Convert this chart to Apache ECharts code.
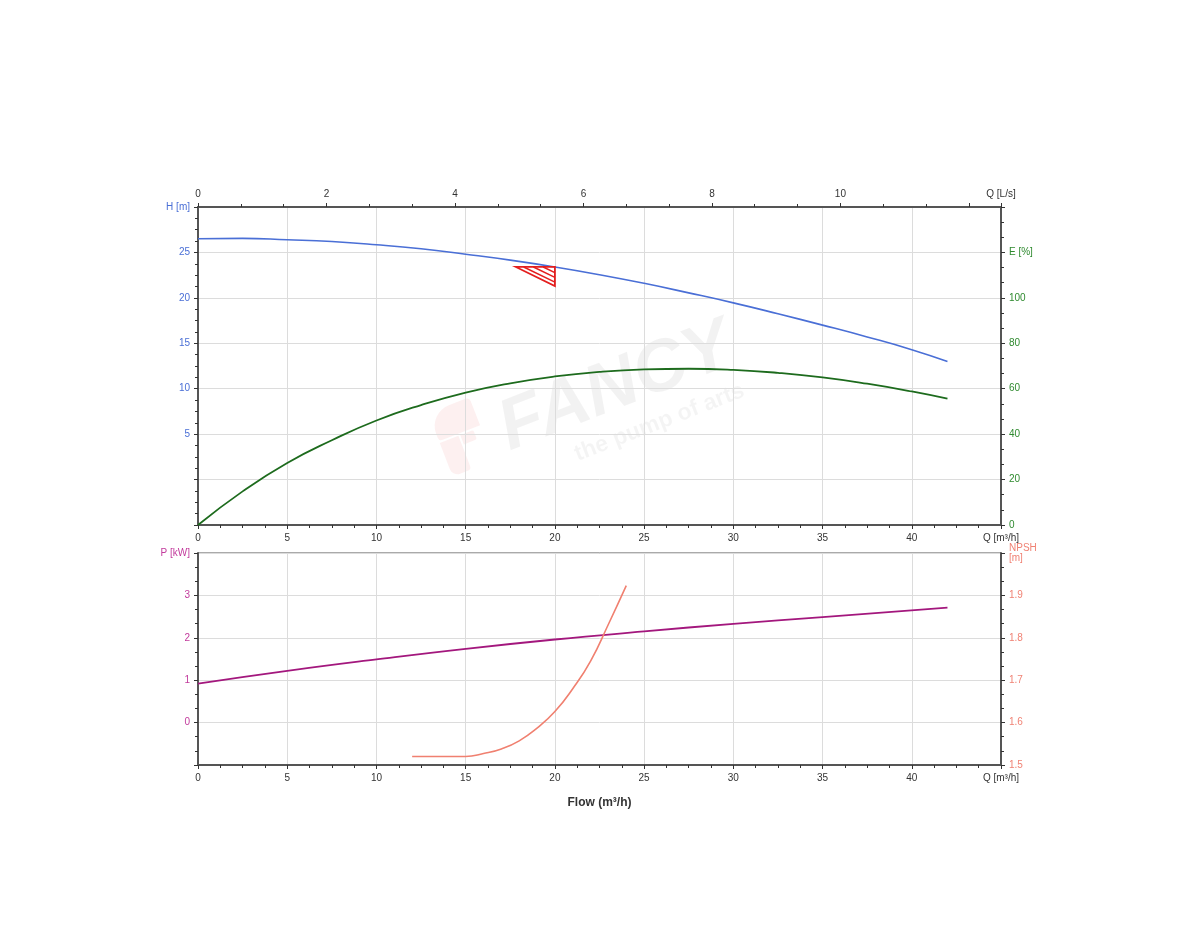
<!DOCTYPE html>
<html>
<head>
<meta charset="utf-8">
<title>Pump curve</title>
<script src="https://cdn.jsdelivr.net/npm/echarts@6/dist/echarts.min.js"></script>
<style>
    html, body { margin: 0; padding: 0; background: #fff; }
    #main { width: 1200px; height: 950px; }
</style>
</head>
<body>
<div id="main"></div>
<script>
// flow points (m3/h) and readings
var flowH = [0, 2.5, 5, 7.5, 10, 12.5, 15, 17.5, 20, 22.5, 25, 27.5, 30, 32.5, 35, 37.5, 40, 42];
var head = [26.5, 26.55, 26.4, 26.2, 25.85, 25.4, 24.8, 24.15, 23.4, 22.55, 21.6, 20.55, 19.45, 18.25, 17.0, 15.7, 14.3, 13.0];

var flowE = [0, 2.5, 5, 7.5, 10, 12.5, 15, 17.5, 20, 22.5, 25, 27.5, 30, 32.5, 35, 37.5, 40, 42];
var efficiency = [0, 14.8, 27.3, 37.3, 46, 52.8, 58.3, 62.4, 65.4, 67.4, 68.5, 68.8, 68.3, 67, 65, 62.2, 58.8, 55.6];

var flowP = [0, 5, 10, 15, 20, 25, 30, 35, 42];
var power = [0.92, 1.22, 1.49, 1.74, 1.96, 2.15, 2.33, 2.49, 2.71];

var flowN = [12, 13, 14, 15, 16, 17, 18, 19, 20, 21, 22, 23, 24];
var npsh = [1.52, 1.52, 1.52, 1.52, 1.527, 1.538, 1.557, 1.587, 1.626, 1.68, 1.745, 1.832, 1.923];

var dutyPoint = [20, 23.4];

var qTicks = [0, 5, 10, 15, 20, 25, 30, 35, 40, 45];
var lsTicks = [0, 2, 4, 6, 8, 10, 12.5];
var hTicks = [5, 10, 15, 20, 25, 30];
var eTicks = [0, 20, 40, 60, 80, 100, 120];
var pTicks = [0, 1, 2, 3, 4];
var nTicks = [1.5, 1.6, 1.7, 1.8, 1.9, 2.0];

function zip(xs, ys) {
    var out = [];
    for (var i = 0; i < xs.length; i++) {
        out.push([xs[i], ys[i]]);
    }
    return out;
}

var FONT = '"Liberation Sans", Arial, sans-serif';
var axisLine = { show: true, onZero: false, lineStyle: { color: '#555', width: 2 } };
var grid = { show: true, lineStyle: { color: '#dcdcdc', width: 1 } };

function xQ(gridIndex, extra) {
    var ax = {
        type: 'value',
        gridIndex: gridIndex,
        position: 'bottom',
        min: 0,
        max: 45,
        interval: 5,
        axisLine: axisLine,
        axisTick: { length: 4, lineStyle: { color: '#333' } },
        minorTick: { show: true, splitNumber: 4, length: 3, lineStyle: { color: '#333' } },
        splitLine: grid,
        axisLabel: {
            customValues: qTicks,
            fontSize: 10,
            color: '#333',
            fontFamily: FONT,
            margin: 8,
            formatter: function (v) { return v === 45 ? 'Q [m³/h]' : v; }
        }
    };
    return Object.assign(ax, extra || {});
}

var chart = echarts.init(document.getElementById('main'));

var option = {
    animation: false,
    textStyle: { fontFamily: FONT },
    grid: [
        { left: 198, right: 199, top: 207, height: 318, show: true, borderColor: '#555', borderWidth: 1 },
        { left: 198, right: 199, top: 553, height: 212, show: true, borderColor: '#555', borderWidth: 1 }
    ],
    graphic: [
        {
            type: 'group',
            x: 616,
            y: 388,
            rotation: 0.37,
            silent: true,
            children: [
                {
                    type: 'text',
                    x: 0, y: 0,
                    style: {
                        text: 'FANCY',
                        font: 'bold italic 72px ' + FONT,
                        fill: 'rgba(0,0,0,0.05)',
                        textAlign: 'center',
                        textVerticalAlign: 'middle'
                    }
                },
                {
                    type: 'text',
                    x: 28, y: 48,
                    style: {
                        text: 'the pump of arts',
                        font: 'bold 23px ' + FONT,
                        fill: 'rgba(0,0,0,0.045)',
                        textAlign: 'center',
                        textVerticalAlign: 'middle'
                    }
                }
            ]
        },
        {
            type: 'group',
            x: 461,
            y: 437,
            rotation: 0.37,
            silent: true,
            children: [
                {
                    type: 'rect',
                    shape: { x: -22, y: -34, width: 44, height: 30, r: [22, 4, 0, 4] },
                    style: { fill: 'rgba(230,60,60,0.08)' }
                },
                {
                    type: 'rect',
                    shape: { x: -22, y: -2, width: 20, height: 36, r: [0, 0, 4, 8] },
                    style: { fill: 'rgba(230,60,60,0.08)' }
                },
                {
                    type: 'rect',
                    shape: { x: 0, y: -2, width: 14, height: 10, r: [0, 2, 2, 0] },
                    style: { fill: 'rgba(230,60,60,0.08)' }
                }
            ]
        }
    ],
    xAxis: [
        xQ(0),
        {
            type: 'value',
            gridIndex: 0,
            position: 'top',
            min: 0,
            max: 12.5,
            interval: 2,
            axisLine: axisLine,
            axisTick: { length: 4, lineStyle: { color: '#333' } },
            minorTick: { show: true, splitNumber: 3, length: 3, lineStyle: { color: '#333' } },
            splitLine: { show: false },
            axisLabel: {
                customValues: lsTicks,
                fontSize: 10,
                color: '#333',
                margin: 8,
                formatter: function (v) { return v === 12.5 ? 'Q [L/s]' : v; }
            }
        },
        xQ(1, {
            name: 'Flow (m³/h)',
            nameLocation: 'middle',
            nameGap: 32,
            nameTextStyle: { fontSize: 12, fontWeight: 'bold', color: '#333', fontFamily: FONT }
        })
    ],
    yAxis: [
        {
            type: 'value',
            gridIndex: 0,
            position: 'left',
            min: -5,
            max: 30,
            interval: 5,
            axisLine: axisLine,
            axisTick: { length: 4, lineStyle: { color: '#333' } },
            minorTick: { show: true, splitNumber: 4, length: 3, lineStyle: { color: '#333' } },
            splitLine: grid,
            axisLabel: {
                customValues: hTicks,
                fontSize: 10,
                color: '#4a6fd6',
                margin: 8,
                formatter: function (v) { return v === 30 ? 'H [m]' : v; }
            }
        },
        {
            type: 'value',
            gridIndex: 0,
            position: 'right',
            min: 0,
            max: 140,
            interval: 20,
            axisLine: axisLine,
            axisTick: { length: 4, lineStyle: { color: '#333' } },
            minorTick: { show: true, splitNumber: 3, length: 3, lineStyle: { color: '#333' } },
            splitLine: { show: false },
            axisLabel: {
                customValues: eTicks,
                fontSize: 10,
                color: '#2f8a2f',
                margin: 8,
                formatter: function (v) { return v === 120 ? 'E [%]' : v; }
            }
        },
        {
            type: 'value',
            gridIndex: 1,
            position: 'left',
            min: -1,
            max: 4,
            interval: 1,
            axisLine: axisLine,
            axisTick: { length: 4, lineStyle: { color: '#333' } },
            minorTick: { show: true, splitNumber: 3, length: 3, lineStyle: { color: '#333' } },
            splitLine: grid,
            axisLabel: {
                customValues: pTicks,
                fontSize: 10,
                color: '#c23a9c',
                margin: 8,
                formatter: function (v) { return v === 4 ? 'P [kW]' : v; }
            }
        },
        {
            type: 'value',
            gridIndex: 1,
            position: 'right',
            min: 1.5,
            max: 2.0,
            interval: 0.1,
            axisLine: axisLine,
            axisTick: { length: 4, lineStyle: { color: '#333' } },
            minorTick: { show: true, splitNumber: 3, length: 3, lineStyle: { color: '#333' } },
            splitLine: { show: false },
            axisLabel: {
                customValues: nTicks,
                fontSize: 10,
                color: '#f08274',
                margin: 8,
                formatter: function (v) { return v > 1.99 ? 'NPSH\n[m]' : v.toFixed(1); }
            }
        }
    ],
    series: [
        {
            name: 'H',
            type: 'line',
            xAxisIndex: 0,
            yAxisIndex: 0,
            data: zip(flowH, head),
            smooth: 0.5,
            showSymbol: false,
            lineStyle: { color: '#4a6fd6', width: 1.6 },
            z: 3
        },
        {
            name: 'E',
            type: 'line',
            xAxisIndex: 0,
            yAxisIndex: 1,
            data: zip(flowE, efficiency),
            smooth: 0.5,
            showSymbol: false,
            lineStyle: { color: '#1d6b1d', width: 1.8 }
        },
        {
            name: 'P',
            type: 'line',
            xAxisIndex: 2,
            yAxisIndex: 2,
            data: zip(flowP, power),
            smooth: 0.5,
            showSymbol: false,
            lineStyle: { color: '#a3177d', width: 1.8 }
        },
        {
            name: 'NPSH',
            type: 'line',
            xAxisIndex: 2,
            yAxisIndex: 3,
            data: zip(flowN, npsh),
            smooth: 0.5,
            showSymbol: false,
            lineStyle: { color: '#f08070', width: 1.6 }
        },
        {
            // duty point marker, hatched triangle
            name: 'duty',
            type: 'custom',
            xAxisIndex: 0,
            yAxisIndex: 0,
            data: [dutyPoint],
            z: 4,
            renderItem: function (params, api) {
                var p = api.coord([api.value(0), api.value(1)]);
                var w = 39, h = 19;
                var kids = [{
                    type: 'polygon',
                    shape: { points: [[p[0], p[1]], [p[0] - w, p[1]], [p[0], p[1] + h]] },
                    style: { fill: 'none', stroke: '#e41e1e', lineWidth: 1.8 }
                }];
                [0.3, 0.55, 0.8].forEach(function (s) {
                    kids.push({
                        type: 'line',
                        shape: { x1: p[0] - w * s, y1: p[1], x2: p[0], y2: p[1] + h * s },
                        style: { stroke: '#e41e1e', lineWidth: 1.5 }
                    });
                });
                return { type: 'group', children: kids };
            }
        }
    ]
};

chart.setOption(option);
</script>
</body>
</html>
